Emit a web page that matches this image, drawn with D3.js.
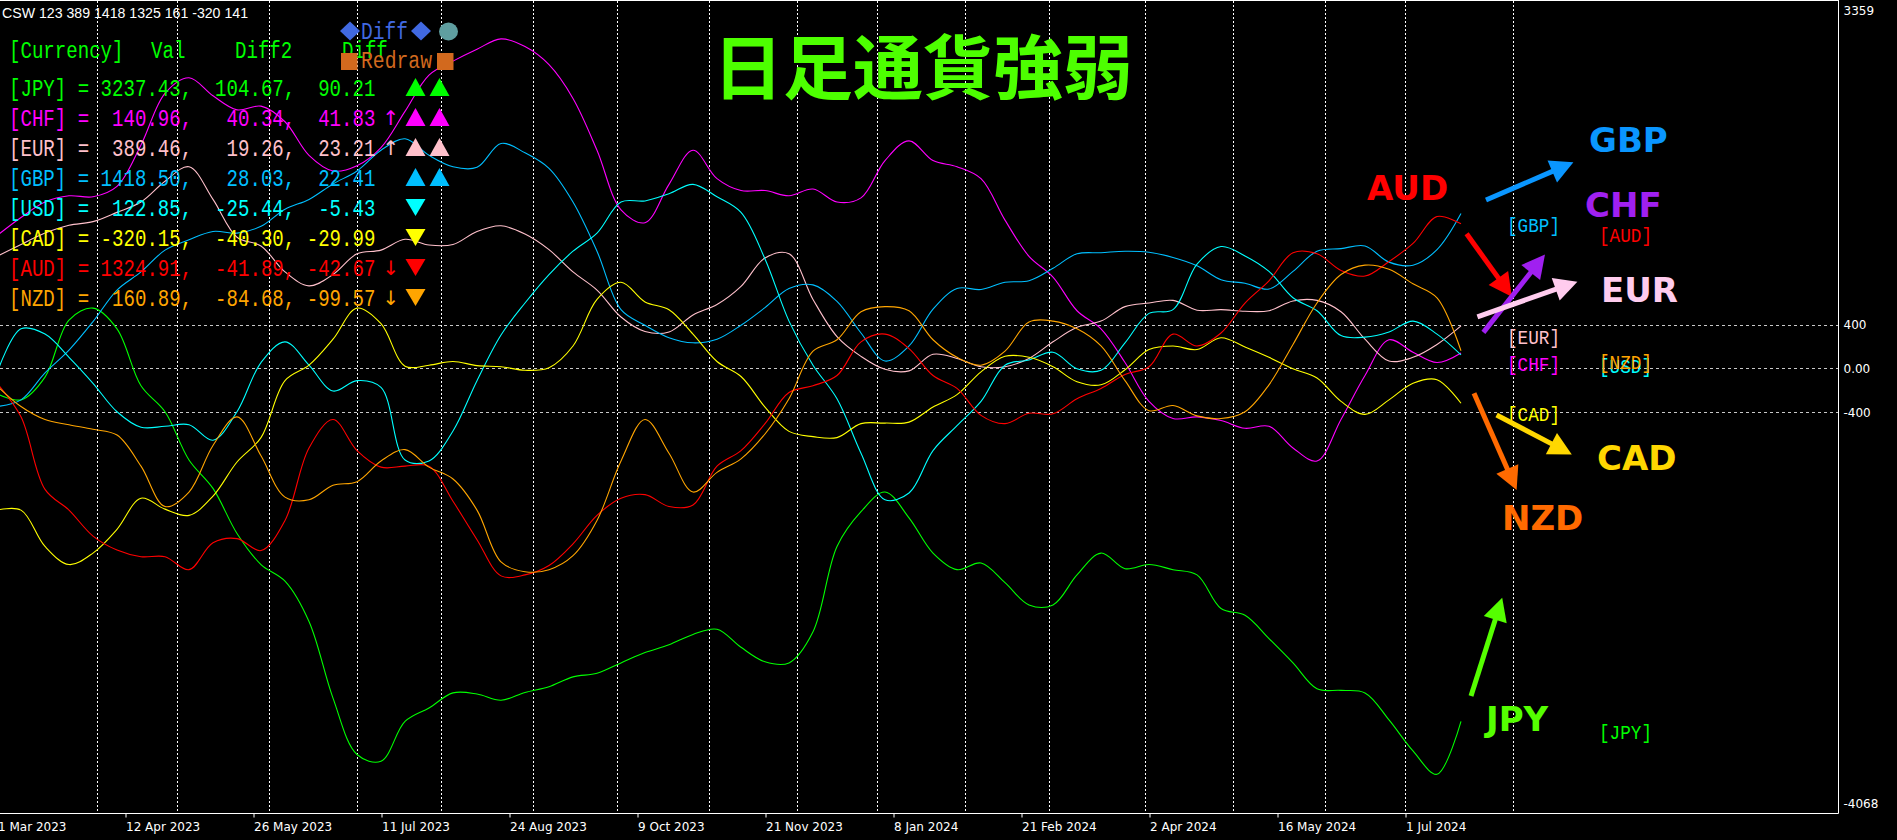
<!DOCTYPE html>
<html><head><meta charset="utf-8">
<script src="https://cdn.jsdelivr.net/npm/d3@7/dist/d3.min.js"></script>
<style>
html,body{margin:0;padding:0;background:#000;overflow:hidden;}
svg{display:block;}
</style></head><body>
<svg id="chart" width="1897" height="840"></svg>
<script>
// ---------------- DATA ----------------
const currencies = ["JPY","CHF","EUR","GBP","USD","CAD","AUD","NZD"];
const barStep = 6; // one sample every 6 daily bars, starting at bar 0
const JPY = [-232,-289,-80,443,552,362,-160,-398,-840,-1101,-1514,-1799,-1951,-2321,-3024,-3541,-3603,-3238,-3114,-2976,-2986,-3043,-2972,-2919,-2829,-2796,-2701,-2606,-2535,-2440,-2392,-2558,-2691,-2701,-2416,-1633,-1314,-1134,-1371,-1694,-1846,-1785,-1965,-2169,-2169,-1894,-1694,-1837,-1799,-1846,-1894,-2202,-2264,-2478,-2701,-2938,-2953,-2976,-3223,-3508,-3722,-3237];
const CHF = [1217,1383,1525,1582,1573,1668,2048,2522,2665,2499,2370,2404,2261,1953,1810,1858,2024,2356,2689,2817,2926,3021,2950,2784,2475,2000,1454,1335,1687,2000,1739,1630,1630,1582,1644,1525,1563,1905,2086,1905,1848,1739,1359,1027,837,528,362,53,-303,-460,-445,-479,-550,-531,-730,-849,-469,-66,262,148,53,141];
const EUR = [1027,1136,1240,1312,1345,1430,1525,1715,1848,1549,1202,1122,884,756,860,1050,1084,1183,1131,1136,1255,1307,1231,1088,884,718,471,338,333,490,585,751,1012,1050,632,291,110,-9,-23,129,91,15,15,91,243,376,433,566,599,623,533,538,523,528,618,623,519,267,67,101,219,389];
const GBP = [-350,-289,-42,167,428,718,884,1084,1179,1255,1240,1302,1459,1549,1691,1810,2000,2105,1953,1848,1843,2062,1976,1834,1525,1074,538,395,281,234,267,395,557,732,765,614,324,67,205,542,732,723,789,803,917,1050,1060,1074,1065,1017,941,813,780,727,889,1074,1098,1122,974,946,1088,1419];
const USD = [-42,362,314,101,-137,-398,-540,-531,-517,-659,-398,53,243,29,-208,-113,-175,-840,-849,-574,-113,305,599,860,1074,1240,1525,1535,1601,1687,1573,1430,1003,433,29,-279,-778,-1205,-1143,-754,-526,-303,29,77,148,-4,-18,234,504,538,955,1117,1031,889,647,528,300,286,333,433,314,123];
const CAD = [-1300,-1300,-1633,-1799,-1694,-1476,-1191,-1291,-1348,-1172,-859,-635,-113,29,267,552,409,20,29,63,25,15,-18,6,205,632,789,609,538,314,63,-75,-355,-578,-626,-635,-507,-502,-493,-355,-241,-32,110,101,15,-123,-151,-13,172,205,172,281,196,101,-4,-89,-303,-422,-289,-137,-104,-320];
const AUD = [-137,-445,-1110,-1300,-1538,-1666,-1727,-1727,-1846,-1599,-1561,-1671,-1395,-730,-469,-754,-906,-897,-897,-1219,-1571,-1903,-1894,-1808,-1609,-1348,-1191,-1158,-1267,-1253,-897,-754,-507,-222,-160,-66,243,314,181,-66,-184,-431,-507,-412,-417,-279,-184,-56,15,314,205,324,599,803,1060,1050,898,846,979,1145,1392,1325];
const NZD = [-160,-350,-469,-517,-559,-612,-897,-1267,-1134,-707,-445,-802,-1181,-1205,-1072,-1039,-849,-745,-906,-1015,-1300,-1775,-1865,-1846,-1718,-1395,-849,-469,-778,-1134,-954,-830,-602,-279,158,262,519,566,528,262,101,29,158,424,433,362,205,-113,-388,-341,-436,-460,-398,-151,219,599,860,946,908,775,647,161];

const legendVal   = [3237.43, 140.96, 389.46, 1418.50, 122.85, -320.15, 1324.91, 160.89];
const legendDiff2 = [104.67, 40.34, 19.26, 28.03, -25.44, -40.30, -41.89, -84.68];
const legendDiff  = [90.21, 41.83, 23.21, 22.41, -5.43, -29.99, -42.67, -99.57];
const legendArrow = ["", "↑", "↑", "", "", "", "↓", "↓"];
const legendTris  = [["up","up"],["up","up"],["up","up"],["up","up"],["down"],["down"],["down"],["down"]];

const xTickBars   = [0,32,64,96,128,160,192,224,256,288,320,352];
const xTickLabels = ["1 Mar 2023","12 Apr 2023","26 May 2023","11 Jul 2023","24 Aug 2023","9 Oct 2023","21 Nov 2023","8 Jan 2024","21 Feb 2024","2 Apr 2024","16 May 2024","1 Jul 2024"];
const monthGridBars = [25,45,68,90,111,134,155,178,200,220,242,263,287,309,332,352,379];
const yTickValues = [3359, 400, 0, -400, -4068];
const yTickLabels = ["3359","400","0.00","-400","-4068"];
const levelValues = [400, 0, -400];

// annotation arrows: [currency, startBar, startVal, tipBar, tipVal]
const arrowDefs = [
  ["GBP", 372.25, 1543, 394.1, 1889],
  ["AUD", 367.4, 1234, 378.7, 657],
  ["CHF", 371.6, 330, 387.0, 1044],
  ["EUR", 370.1, 472, 395.1, 795],
  ["CAD", 374.9, -428, 393.7, -789],
  ["NZD", 369.25, -229, 379.9, -1116],
  ["JPY", 368.5, -3005, 376.3, -2103]
];
// big labels: [currency, bar (left), value (baseline)]
const bigLabels = [
  ["AUD", 342.5, 1543],
  ["GBP", 398, 1983],
  ["CHF", 397, 1387],
  ["EUR", 401, 608],
  ["CAD", 400, -932],
  ["NZD", 376.25, -1480],
  ["JPY", 372.25, -3326]
];
const bracketCol = {GBP:0, EUR:0, CHF:0, CAD:0, AUD:1, NZD:1, USD:1, JPY:1};

// ---------------- STYLE ----------------
const lineColor = {JPY:"#00ff00", CHF:"#ff00ff", EUR:"#ffc0cb", GBP:"#00bfff", USD:"#00ffff", CAD:"#ffff00", AUD:"#ff0000", NZD:"#ffa500"};
const bigColor  = {JPY:"#55ff00", CHF:"#a020f0", EUR:"#ffccee", GBP:"#0a96ff", CAD:"#ffd700", AUD:"#ff0000", NZD:"#ff6a00"};
const seriesData = {JPY, CHF, EUR, GBP, USD, CAD, AUD, NZD};

const W = 1897, H = 840;
const svg = d3.select("#chart");
svg.append("rect").attr("width", W).attr("height", H).attr("fill", "#000");

const x = d3.scaleLinear().domain([0, 400]).range([-3, 1597]);
const y = d3.scaleLinear().domain([-4068, 3359]).range([812, 2]);
const plotRight = 1838.5, axisY = 813.5;

// grid
const grid = svg.append("g");
grid.selectAll("line.v").data(monthGridBars).enter().append("line")
  .attr("x1", d => Math.round(x(d)) + 0.5).attr("x2", d => Math.round(x(d)) + 0.5)
  .attr("y1", 1).attr("y2", axisY)
  .attr("stroke", "#ffffff").attr("stroke-width", 1).attr("stroke-dasharray", "2,2");
grid.selectAll("line.h").data(levelValues).enter().append("line")
  .attr("x1", 0).attr("x2", plotRight)
  .attr("y1", d => Math.round(y(d)) + 0.5).attr("y2", d => Math.round(y(d)) + 0.5)
  .attr("stroke", "#c8c8c8").attr("stroke-width", 1).attr("stroke-dasharray", "3,3");

// frame
svg.append("line").attr("x1", 0).attr("x2", plotRight).attr("y1", 0.5).attr("y2", 0.5).attr("stroke", "#fff");
svg.append("line").attr("x1", plotRight).attr("x2", plotRight).attr("y1", 0).attr("y2", axisY).attr("stroke", "#fff");
svg.append("line").attr("x1", 0).attr("x2", plotRight).attr("y1", axisY).attr("y2", axisY).attr("stroke", "#fff");

// x axis
const xAxis = d3.axisBottom(x).tickValues(xTickBars).tickFormat((d, i) => xTickLabels[i]).tickSize(4).tickSizeOuter(0);
const gx = svg.append("g").attr("transform", `translate(0.5,${axisY})`).call(xAxis);
gx.select(".domain").remove();
gx.selectAll(".tick line").attr("stroke", "#fff");
gx.selectAll(".tick text").attr("fill", "#fff").attr("text-anchor", "start").attr("dx", "0")
  .attr("y", 17).attr("dy", 0)
  .style("font-family", "'DejaVu Sans', sans-serif").style("font-size", "12px");

// y axis
const yAxis = d3.axisRight(y).tickValues(yTickValues).tickFormat((d, i) => yTickLabels[i]).tickSize(0).tickPadding(5);
const gy = svg.append("g").attr("transform", `translate(${plotRight},0)`).call(yAxis);
gy.select(".domain").remove();
gy.selectAll(".tick text").attr("fill", "#fff")
  .style("font-family", "'DejaVu Sans', sans-serif").style("font-size", "12px")
  .attr("dy", d => d === 3359 ? "1.05em" : (d === -4068 ? "-0.35em" : "0.34em"));

// series lines
const line = d3.line().x((d, i) => x(i * barStep)).y(d => y(d)).curve(d3.curveCatmullRom.alpha(0.5));
const lines = svg.append("g");
currencies.forEach(c => {
  lines.append("path").datum(seriesData[c]).attr("d", line)
    .attr("fill", "none").attr("stroke", lineColor[c]).attr("stroke-width", 1.1);
});

// bracket labels at series ends
const colBars = [377.5, 400.5];
currencies.forEach(c => {
  const arr = seriesData[c];
  svg.append("text").text(`[${c}]`)
    .attr("x", x(colBars[bracketCol[c]])).attr("y", y(arr[arr.length - 1]) + 18)
    .attr("textLength", 53).attr("lengthAdjust", "spacingAndGlyphs")
    .attr("fill", lineColor[c])
    .style("font-family", "'Liberation Mono', monospace").style("font-size", "21px");
});

// arrows
const ann = svg.append("g");
arrowDefs.forEach(([c, b0, v0, b1, v1]) => {
  const x0 = x(b0), y0 = y(v0), x1 = x(b1), y1 = y(v1);
  const dx = x1 - x0, dy = y1 - y0, len = Math.hypot(dx, dy);
  const ux = dx / len, uy = dy / len, px = -uy, py = ux;
  const L = 23, Wd = 12;
  const bx = x1 - ux * L, by = y1 - uy * L;
  ann.append("line").attr("x1", x0).attr("y1", y0).attr("x2", bx + ux * 2).attr("y2", by + uy * 2)
    .attr("stroke", bigColor[c]).attr("stroke-width", 5);
  ann.append("path").attr("d", `M${x1},${y1}L${bx + px * Wd},${by + py * Wd}L${bx - px * Wd},${by - py * Wd}Z`)
    .attr("fill", bigColor[c]);
});
bigLabels.forEach(([c, b, v]) => {
  ann.append("text").text(c).attr("x", x(b)).attr("y", y(v))
    .attr("fill", bigColor[c]).style("font-family", "'DejaVu Sans', sans-serif")
    .style("font-weight", "bold").style("font-size", "34px");
});

// title
svg.append("text").text("日足通貨強弱").attr("x", 923).attr("y", 63.5)
  .attr("text-anchor", "middle").attr("dominant-baseline", "central")
  .attr("fill", "#4dff00").style("font-family", "'Noto Sans CJK JP', sans-serif")
  .style("font-weight", "bold").style("font-size", "70px");

// top-left info
svg.append("text").text("CSW 123 389 1418 1325 161 -320 141").attr("x", 2).attr("y", 18)
  .attr("textLength", 246).attr("lengthAdjust", "spacingAndGlyphs")
  .attr("fill", "#fff").style("font-family", "'Liberation Sans', sans-serif").style("font-size", "14px");

// legend (monospace text drawn at 21px and stretched vertically to the reference glyph height)
const cw = 11.45, lx = 9, vStretch = 1.14;
const mono = "'Liberation Mono', monospace";
const leg = svg.append("g");
const monoText = (g, t, xx, base, color, anchor) => g.append("text").text(t)
  .attr("transform", `translate(${xx},${base}) scale(1,${vStretch})`)
  .attr("text-anchor", anchor || "start")
  .attr("textLength", t.length * cw).attr("lengthAdjust", "spacingAndGlyphs")
  .attr("fill", color).style("font-family", mono).style("font-size", "21px").style("white-space", "pre");

[["[Currency]", 9], ["Val", 151], ["Diff2", 235], ["Diff", 342]].forEach(([t, xx]) => {
  monoText(leg, t, xx, 58, "#00ff00");
});
const pad = (s, n) => (" ".repeat(Math.max(0, n - s.length)) + s);
currencies.forEach((c, i) => {
  const base = 96 + i * 30;
  const col = lineColor[c];
  monoText(leg, `[${c}] =`, lx, base, col);
  monoText(leg, legendVal[i].toFixed(2) + ",", lx + 16 * cw, base, col, "end");
  monoText(leg, legendDiff2[i].toFixed(2) + ",", lx + 25 * cw, base, col, "end");
  monoText(leg, legendDiff[i].toFixed(2), lx + 32 * cw, base, col, "end");
  if (legendArrow[i]) {
    leg.append("text").text(legendArrow[i]).attr("x", 391).attr("y", base - 1)
      .attr("text-anchor", "middle").attr("fill", col)
      .style("font-family", "'DejaVu Sans', sans-serif").style("font-size", "20px");
  }
  legendTris[i].forEach((t, k) => {
    const cx = 415.5 + k * 24;
    const p = t === "up"
      ? `M${cx - 10},${base}L${cx + 10},${base}L${cx},${base - 18}Z`
      : `M${cx - 10},${base - 17}L${cx + 10},${base - 17}L${cx},${base}Z`;
    leg.append("path").attr("d", p).attr("fill", col);
  });
});

// buttons
const btn = svg.append("g");
const diamond = cx => `M${cx - 10},31L${cx},21.5L${cx + 10},31L${cx},40.5Z`;
btn.append("path").attr("d", diamond(350)).attr("fill", "#4169e1");
btn.append("path").attr("d", diamond(421)).attr("fill", "#4169e1");
btn.append("text").text("Diff")
  .attr("transform", `translate(361,39) scale(1,${vStretch})`)
  .attr("textLength", 47).attr("lengthAdjust", "spacingAndGlyphs")
  .attr("fill", "#4169e1").style("font-family", mono).style("font-size", "21px");
btn.append("ellipse").attr("cx", 448.5).attr("cy", 31.5).attr("rx", 9.5).attr("ry", 9).attr("fill", "#5f9ea0");
btn.append("rect").attr("x", 341).attr("y", 53).attr("width", 16.5).attr("height", 17).attr("fill", "#d2691e");
btn.append("rect").attr("x", 437).attr("y", 53).attr("width", 16.5).attr("height", 17).attr("fill", "#d2691e");
btn.append("text").text("Redraw")
  .attr("transform", `translate(361,68) scale(1,${vStretch})`)
  .attr("textLength", 71).attr("lengthAdjust", "spacingAndGlyphs")
  .attr("fill", "#d2691e").style("font-family", mono).style("font-size", "21px");
</script>
</body></html>
